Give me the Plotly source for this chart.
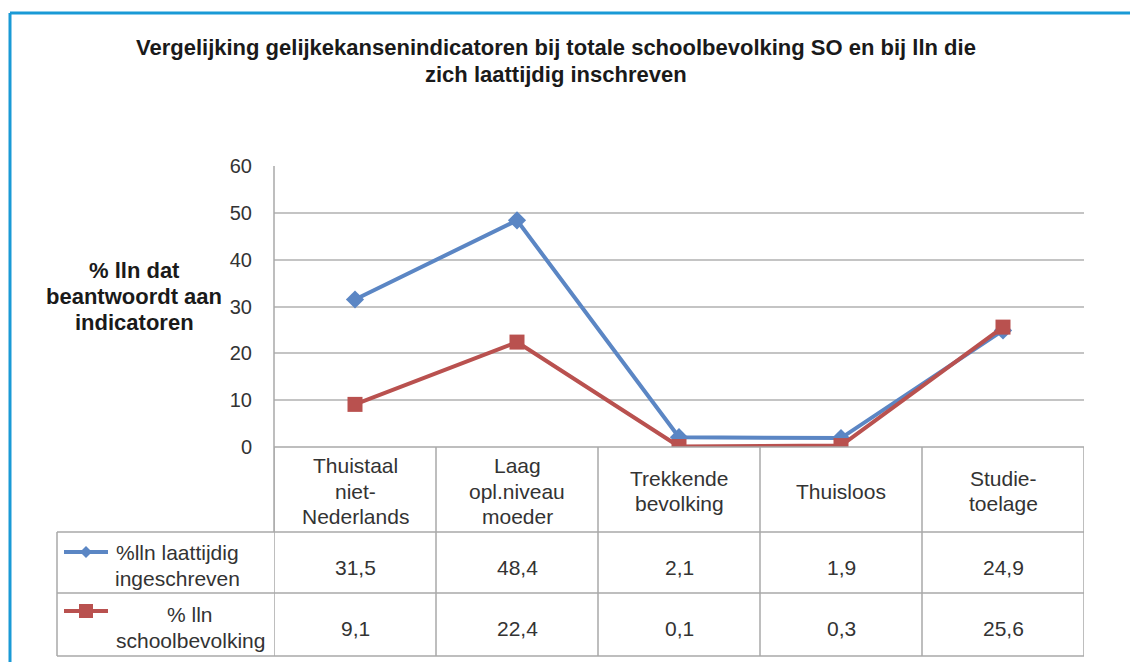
import plotly.graph_objects as go

categories = ["Thuistaal<br>niet-<br>Nederlands", "Laag<br>opl.niveau<br>moeder",
              "Trekkende<br>bevolking", "Thuisloos", "Studie-<br>toelage"]
series_names = ["%lln laattijdig<br>ingeschreven", "% lln<br>schoolbevolking"]
laattijdig = [31.5, 48.4, 2.1, 1.9, 24.9]
schoolbevolking = [9.1, 22.4, 0.1, 0.3, 25.6]
value_labels_1 = ["31,5", "48,4", "2,1", "1,9", "24,9"]
value_labels_2 = ["9,1", "22,4", "0,1", "0,3", "25,6"]
y_ticks = [0, 10, 20, 30, 40, 50, 60]

BLUE = "#5b86c4"
RED = "#b9514f"
GRID = "#c4c4c4"
TABLE = "#a8a8a8"
TXT = "#333333"
FONT = "Liberation Sans, Arial, sans-serif"

# pixel geometry of plot area
L, R, T, B = 274, 1084, 166, 447
W, H = R - L, B - T


def px(x):
    return (x - L) / W


def py(y):
    return (B - y) / H


def multiline(text, xref, x, ycenter, spacing, size, color, bold=False, xanchor="center"):
    lines = text.split("<br>")
    n = len(lines)
    out = []
    for j, ln in enumerate(lines):
        yy = ycenter + (j - (n - 1) / 2) * spacing
        t = f"<b>{ln}</b>" if bold else ln
        out.append(dict(text=t, xref=xref, yref="paper", x=x, y=py(yy), xanchor=xanchor,
                        yanchor="middle", showarrow=False,
                        font=dict(family=FONT, size=size, color=color)))
    return out


xs = list(range(len(categories)))

fig = go.Figure()
fig.add_trace(go.Scatter(x=xs, y=laattijdig, mode="lines+markers",
                         line=dict(color=BLUE, width=4),
                         marker=dict(symbol="diamond", size=14, color=BLUE),
                         showlegend=False, hoverinfo="skip"))
fig.add_trace(go.Scatter(x=xs, y=schoolbevolking, mode="lines+markers",
                         line=dict(color=RED, width=4),
                         marker=dict(symbol="square", size=15, color=RED),
                         showlegend=False, hoverinfo="skip"))

shapes = []
# outer blue frame
shapes.append(dict(type="line", xref="paper", yref="paper", x0=px(10), x1=px(10),
                   y0=py(13), y1=py(700), line=dict(color="#1a9ad6", width=3)))
shapes.append(dict(type="line", xref="paper", yref="paper", x0=px(10), x1=px(1135),
                   y0=py(13), y1=py(13), line=dict(color="#1a9ad6", width=3)))

# plot left border
shapes.append(dict(type="line", xref="paper", yref="paper", x0=0, x1=0, y0=1, y1=py(532),
                   line=dict(color=TABLE, width=1.5)))
# table grid
row_lines = [447, 532, 593, 656]
for i, yy in enumerate(row_lines):
    x0 = L if i == 0 else 57
    shapes.append(dict(type="line", xref="paper", yref="paper", x0=px(x0), x1=px(R),
                       y0=py(yy), y1=py(yy), line=dict(color=TABLE, width=1.5)))
for k in range(len(categories) + 1):
    shapes.append(dict(type="line", xref="x", yref="paper", x0=k - 0.5, x1=k - 0.5,
                       y0=py(447), y1=py(656), line=dict(color=TABLE, width=1.5)))
shapes.append(dict(type="line", xref="paper", yref="paper", x0=px(57), x1=px(57),
                   y0=py(532), y1=py(656), line=dict(color=TABLE, width=1.5)))

# legend keys in table
for yy, col, sym in [(552, BLUE, "diamond"), (611, RED, "square")]:
    shapes.append(dict(type="line", xref="paper", yref="paper", x0=px(64), x1=px(108),
                       y0=py(yy), y1=py(yy), line=dict(color=col, width=4)))
    cx, cy = 86, yy
    if sym == "diamond":
        path = f"M {px(cx-6)} {py(cy)} L {px(cx)} {py(cy-6)} L {px(cx+6)} {py(cy)} L {px(cx)} {py(cy+6)} Z"
        shapes.append(dict(type="path", xref="paper", yref="paper", path=path,
                           fillcolor=col, line=dict(color=col, width=0)))
    else:
        shapes.append(dict(type="rect", xref="paper", yref="paper", x0=px(cx-7), x1=px(cx+7),
                           y0=py(cy-7), y1=py(cy+7), fillcolor=col, line=dict(color=col, width=0)))

title_text = "Vergelijking gelijkekansenindicatoren bij totale schoolbevolking SO en bij lln die<br>zich laattijdig inschreven"
ytitle_text = "% lln dat<br>beantwoordt aan<br>indicatoren"

annotations = []
annotations += multiline(title_text, "paper", px(556), 61, 27, 22, "#1a1a1a", bold=True)
annotations += multiline(ytitle_text, "paper", px(134), 296, 26, 22, "#1a1a1a", bold=True)
for i, c in enumerate(categories):
    annotations += multiline(c, "x", i, 491, 25.5, 21, TXT)
    annotations += multiline(value_labels_1[i], "x", i, 567, 25, 21, TXT)
    annotations += multiline(value_labels_2[i], "x", i, 628, 25, 21, TXT)
annotations += multiline(series_names[0], "paper", px(177), 565, 26, 21, TXT)
annotations += multiline(series_names[1], "paper", px(190), 627, 26, 21, TXT)

fig.update_layout(
    width=1130, height=662,
    margin=dict(l=L, r=1130 - R, t=T, b=662 - B, pad=0),
    paper_bgcolor="white", plot_bgcolor="white",
    xaxis=dict(range=[-0.5, len(categories) - 0.5], showgrid=False, showticklabels=False,
               zeroline=False, showline=False, fixedrange=True),
    yaxis=dict(range=[0, 60], tickvals=y_ticks, showgrid=True, gridcolor=GRID, gridwidth=1.5,
               zeroline=False, showline=False, ticks="", ticklabelstandoff=21,
               tickfont=dict(family=FONT, size=20, color=TXT), fixedrange=True),
    shapes=shapes, annotations=annotations, font=dict(family=FONT),
)
fig.write_html("out.html", config={"displayModeBar": False},
               post_script="document.body.style.margin='0';document.body.style.overflow='hidden';")
